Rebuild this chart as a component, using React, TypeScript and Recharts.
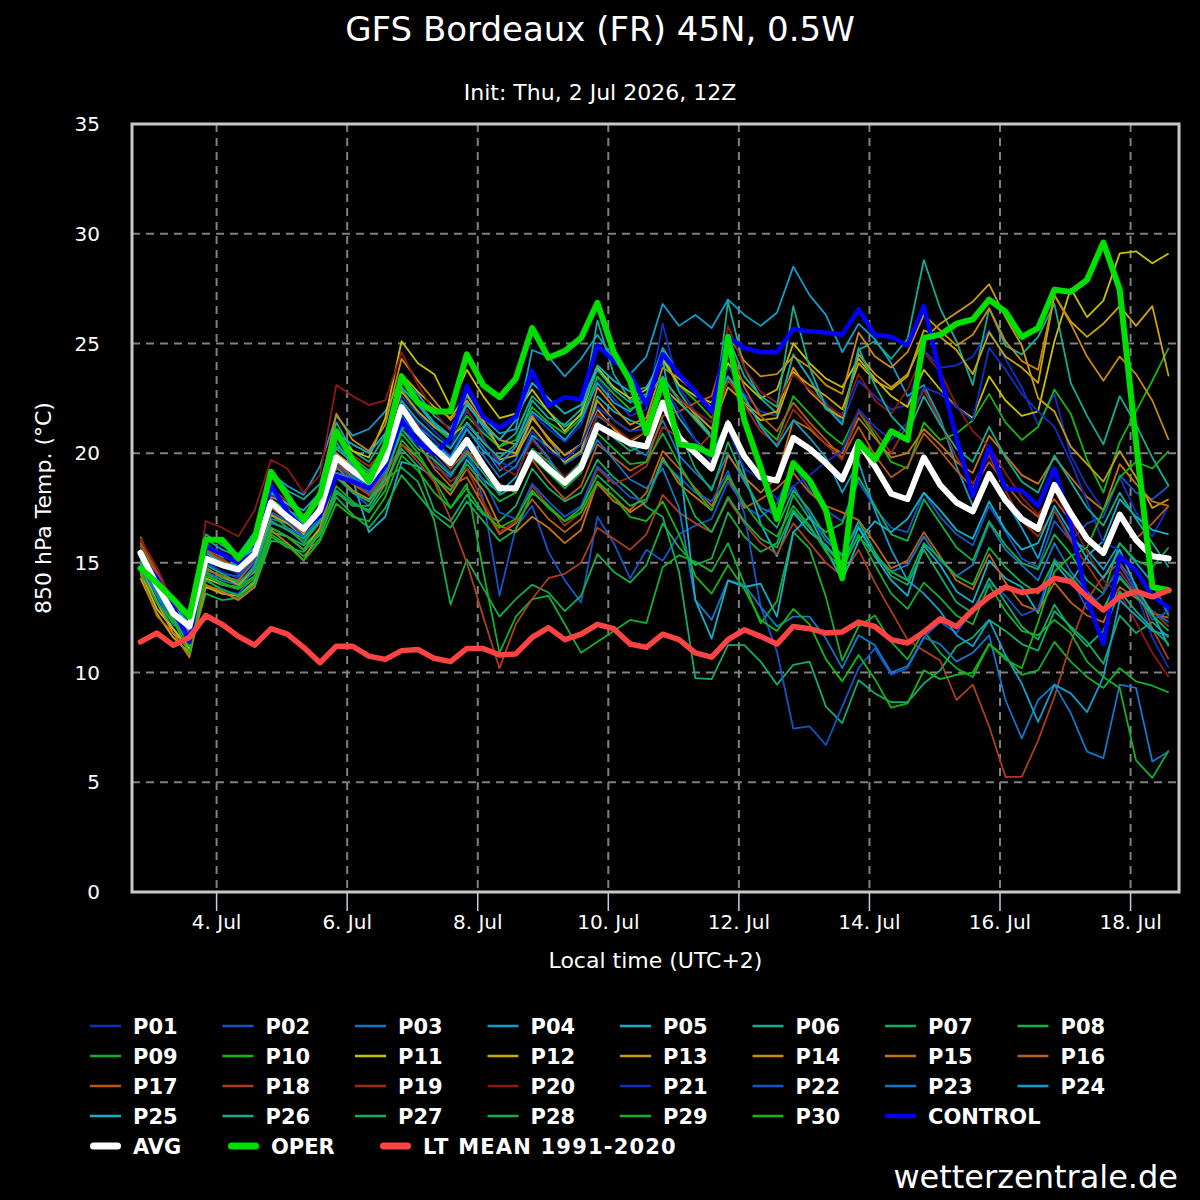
import React from 'react';
import { LineChart, Line, XAxis, YAxis, CartesianGrid, ReferenceArea } from 'recharts';

// Forecast hours counted from 2 Jul 00:00 local time (UTC+2), 6-hourly steps
const HOURS = [
  20, 26, 32, 38, 44, 50, 56, 62, 68, 74, 80, 86, 92, 98, 104, 110,
  116, 122, 128, 134, 140, 146, 152, 158, 164, 170, 176, 182, 188, 194, 200, 206,
  212, 218, 224, 230, 236, 242, 248, 254, 260, 266, 272, 278, 284, 290, 296, 302,
  308, 314, 320, 326, 332, 338, 344, 350, 356, 362, 368, 374, 380, 386, 392, 398,
];

const X_TICKS = [48, 96, 144, 192, 240, 288, 336, 384];
const X_TICK_LABELS = ['4. Jul', '6. Jul', '8. Jul', '10. Jul', '12. Jul', '14. Jul', '16. Jul', '18. Jul'];
const Y_TICKS = [0, 5, 10, 15, 20, 25, 30, 35];

// 850 hPa temperature (°C), ensemble members
const P01 = [
  15.3, 14.3, 12.9, 11.3, 15.1, 14.6, 14.3, 15.0, 18.1, 17.6, 16.4, 17.3, 19.6, 19.1, 18.3, 19.8,
  22.6, 21.8, 21.0, 20.3, 21.9, 21.0, 20.2, 19.9, 21.8, 21.1, 20.5, 21.3, 23.4, 22.5, 21.7, 22.0,
  25.9, 23.0, 21.9, 21.1, 24.0, 22.7, 21.9, 21.7, 24.5, 23.4, 22.3, 21.4, 23.3, 22.6, 22.0, 22.2,
  24.7, 23.9, 24.0, 24.4, 25.6, 24.3, 23.0, 21.3, 22.7, 19.9, 18.5, 17.4, 18.9, 17.3, 16.2, 17.6,
];
const P02 = [
  15.7, 14.1, 12.5, 11.4, 14.3, 13.7, 13.6, 14.4, 16.9, 16.5, 16.0, 16.8, 19.1, 18.2, 17.6, 18.8,
  21.1, 20.4, 19.4, 18.9, 20.3, 17.9, 13.5, 16.6, 17.6, 15.5, 14.2, 13.2, 17.1, 15.9, 14.3, 15.6,
  15.1, 16.3, 16.7, 17.0, 18.7, 17.6, 17.1, 17.7, 19.5, 18.3, 17.4, 16.9, 18.7, 17.5, 16.6, 16.4,
  18.2, 17.1, 16.3, 15.8, 17.6, 16.4, 15.2, 14.8, 16.9, 16.0, 16.8, 17.1, 19.0, 18.2, 17.9, 18.5,
];
const P03 = [
  15.0, 13.6, 12.3, 11.7, 14.6, 14.2, 14.0, 14.9, 17.0, 16.8, 16.4, 17.3, 19.3, 19.0, 18.5, 19.4,
  21.4, 21.2, 20.6, 19.8, 21.1, 20.3, 19.2, 19.7, 21.6, 20.7, 19.5, 20.0, 21.7, 21.2, 20.3, 19.9,
  21.5, 19.9, 19.1, 18.4, 20.0, 18.7, 17.5, 17.2, 18.5, 17.2, 16.0, 15.4, 16.7, 15.3, 14.6, 14.9,
  16.2, 15.1, 14.4, 14.9, 16.8, 15.6, 14.9, 14.2, 15.9, 14.6, 13.7, 12.9, 14.4, 13.5, 12.8, 12.3,
];
const P04 = [
  15.9, 14.6, 13.3, 12.1, 16.1, 15.6, 15.3, 16.4, 19.1, 18.5, 18.1, 19.4, 21.7, 20.8, 21.1, 21.9,
  23.4, 22.7, 21.7, 21.1, 22.6, 21.6, 20.9, 21.1, 24.7, 24.4, 23.5, 24.3, 25.4, 24.3, 23.6, 24.4,
  26.8, 25.8, 26.3, 25.7, 27.0, 26.3, 25.8, 26.4, 28.5, 27.2, 26.3, 24.6, 25.9, 25.2, 24.1, 22.6,
  23.1, 21.6, 19.4, 17.6, 19.0, 17.8, 16.6, 15.2, 17.4, 16.1, 15.6, 14.7, 15.9, 15.0, 14.1, 12.6,
];
const P05 = [
  15.2, 13.9, 12.8, 11.9, 15.6, 15.3, 15.0, 15.7, 17.5, 17.3, 16.6, 17.6, 19.9, 18.8, 16.4, 17.1,
  19.6, 19.4, 18.9, 18.3, 19.7, 18.8, 18.2, 18.9, 20.8, 20.3, 19.6, 20.1, 22.6, 21.9, 21.5, 21.2,
  23.1, 21.6, 20.6, 19.9, 21.5, 19.1, 16.8, 15.3, 17.3, 16.4, 15.8, 14.9, 16.6, 15.3, 14.2, 13.5,
  15.8, 14.9, 13.7, 13.2, 15.1, 14.3, 13.9, 12.7, 15.0, 14.1, 15.3, 16.0, 17.9, 17.1, 16.5, 16.3,
];
const P06 = [
  15.5, 14.4, 13.4, 12.4, 16.3, 15.8, 15.4, 16.4, 19.2, 18.3, 17.9, 18.6, 21.4, 20.1, 19.6, 20.8,
  23.6, 22.3, 21.4, 20.8, 22.3, 21.2, 20.3, 20.9, 22.6, 21.9, 21.2, 21.7, 26.05, 23.6, 22.4, 22.7,
  24.7, 22.8, 21.7, 20.8, 26.9, 23.9, 22.5, 21.8, 24.5, 23.4, 22.0, 21.6, 24.7, 25.1, 24.3, 25.2,
  28.8, 26.6, 25.1, 23.1, 26.6, 24.9, 24.5, 25.3, 26.8, 23.2, 21.7, 20.4, 22.6, 21.3, 19.8, 18.5,
];
const P07 = [
  15.1, 13.7, 12.5, 10.8, 14.0, 13.6, 13.5, 14.2, 16.4, 16.2, 15.8, 16.5, 18.3, 17.7, 17.4, 18.6,
  20.2, 19.4, 17.4, 16.9, 18.1, 17.2, 16.9, 17.6, 19.3, 18.4, 17.8, 18.2, 19.7, 18.9, 18.3, 17.55,
  17.1, 14.6, 9.75, 9.7, 11.25, 11.25, 10.5, 9.45, 10.35, 10.5, 8.45, 7.7, 9.65, 9.05, 8.65, 8.65,
  9.5, 10.1, 11.2, 11.6, 12.4, 11.9, 11.3, 11.0, 12.8, 12.1, 11.4, 10.4, 12.6, 11.8, 12.3, 11.6,
];
const P08 = [
  14.8, 13.3, 12.0, 11.0, 13.6, 13.3, 13.4, 13.9, 16.0, 15.9, 15.3, 16.1, 18.2, 17.6, 17.6, 18.8,
  19.35, 18.7, 16.95, 13.1, 15.15, 13.85, 12.55, 13.35, 14.0, 13.65, 12.8, 13.5, 15.4, 14.6, 14.1, 14.9,
  16.8, 15.7, 14.9, 15.2, 17.3, 16.2, 15.5, 15.9, 18.1, 17.0, 16.4, 16.8, 18.9, 17.6, 16.3, 16.0,
  17.9, 16.8, 15.7, 15.1, 16.9, 15.8, 15.0, 14.7, 16.3, 15.4, 14.2, 13.6, 15.9, 15.1, 14.8, 15.7,
];
const P09 = [
  15.8, 14.5, 12.9, 11.6, 14.8, 14.3, 14.1, 14.6, 17.2, 16.6, 15.9, 16.9, 19.0, 18.3, 17.9, 19.1,
  20.9, 20.0, 18.8, 17.5, 18.6, 14.65, 10.9, 12.55, 13.35, 13.5, 12.2, 10.9, 11.4, 11.9, 12.4, 12.25,
  14.8, 15.35, 15.05, 14.6, 15.9, 14.05, 12.25, 13.25, 16.4, 15.65, 13.45, 10.55, 12.1, 12.6, 11.4, 10.6,
  11.9, 10.9, 10.2, 9.8, 11.3, 10.7, 9.9, 10.1, 11.4, 10.5, 9.8, 9.3, 10.2, 9.6, 9.4, 9.1,
];
const P10 = [
  15.4, 14.2, 12.9, 11.8, 15.3, 14.9, 14.8, 15.5, 17.9, 17.4, 17.0, 17.8, 20.3, 19.8, 19.2, 20.3,
  22.9, 21.9, 21.2, 20.6, 21.7, 20.9, 20.3, 20.6, 22.1, 21.4, 20.9, 21.6, 23.5, 22.7, 22.0, 22.4,
  24.2, 23.1, 22.4, 21.6, 23.3, 22.5, 21.3, 20.6, 22.6, 21.8, 21.0, 20.4, 21.9, 20.8, 19.6, 19.3,
  21.4, 20.6, 20.9, 21.5, 22.7, 21.4, 20.6, 21.2, 22.9, 21.8, 19.7, 18.2, 20.5, 21.9, 23.3, 24.8,
];
const P11 = [
  14.6, 12.9, 12.0, 11.1, 14.3, 14.0, 13.9, 14.8, 17.3, 16.9, 16.3, 17.6, 20.8, 20.1, 19.8, 21.6,
  25.1, 24.1, 23.6, 22.1, 23.8, 22.6, 21.6, 21.8, 22.9, 21.9, 21.0, 21.8, 23.9, 23.0, 22.5, 22.9,
  24.3, 23.1, 22.6, 22.3, 24.1, 23.2, 22.5, 22.9, 25.0, 24.1, 23.4, 23.0, 24.3, 23.4, 22.6, 22.1,
  23.8, 22.9, 22.1, 21.6, 23.5, 22.4, 21.7, 21.9, 25.1, 27.5, 26.2, 26.95, 29.1, 29.2, 28.65, 29.1,
];
const P12 = [
  14.3, 12.7, 11.6, 10.9, 13.9, 13.6, 13.5, 14.1, 16.6, 16.2, 15.6, 16.6, 19.1, 18.8, 18.4, 19.9,
  23.6, 22.8, 22.1, 21.6, 22.7, 21.5, 20.2, 20.0, 21.6, 20.7, 19.9, 20.4, 22.0, 21.1, 20.5, 21.0,
  23.0, 22.3, 21.6, 20.7, 23.5, 22.2, 21.5, 21.6, 23.7, 23.1, 22.6, 22.0, 24.1, 23.3, 22.9, 23.5,
  25.6, 25.3, 24.7, 23.6, 25.5, 24.4, 23.9, 23.2, 27.2, 26.0, 25.3, 25.9, 26.7, 25.8, 26.7, 23.5,
];
const P13 = [
  15.0, 13.2, 11.8, 11.2, 14.7, 14.4, 14.0, 14.6, 17.2, 16.8, 16.2, 17.0, 20.0, 19.4, 19.0, 20.4,
  22.8, 21.9, 21.2, 20.8, 21.3, 20.5, 19.7, 19.9, 21.2, 20.3, 19.6, 20.1, 22.4, 21.5, 21.0, 21.4,
  23.4, 22.5, 21.8, 21.1, 23.0, 22.3, 21.7, 21.9, 23.9, 22.8, 22.1, 21.6, 24.5, 23.6, 23.0, 23.6,
  25.2, 25.9, 26.4, 26.9, 27.7, 26.2, 24.9, 22.5, 21.9, 20.3, 19.5, 18.7, 20.1, 18.9, 17.5, 17.9,
];
const P14 = [
  15.6, 13.9, 12.4, 11.5, 15.4, 15.0, 14.5, 15.2, 18.0, 17.7, 17.1, 18.3, 21.8, 20.6, 20.1, 21.3,
  24.3, 23.3, 22.4, 21.5, 22.4, 21.4, 20.6, 20.4, 21.7, 20.6, 19.9, 20.4, 23.0, 22.1, 21.3, 21.6,
  23.9, 23.4, 22.8, 22.1, 25.4, 24.2, 23.5, 23.6, 24.4, 23.9, 23.1, 22.7, 25.5, 24.4, 23.9, 24.6,
  26.3, 25.6, 24.9, 25.4, 26.6, 25.1, 24.2, 23.8, 27.2, 25.9, 24.4, 23.3, 24.4, 23.6, 22.4, 20.6,
];
const P15 = [
  14.5, 12.6, 11.8, 10.7, 14.0, 13.7, 13.3, 13.9, 16.5, 15.9, 15.1, 16.5, 19.0, 18.3, 17.9, 18.6,
  20.4, 19.8, 18.9, 18.1, 19.3, 18.3, 16.7, 16.4, 17.1, 16.6, 15.9, 16.5, 18.7, 18.0, 17.3, 17.8,
  19.8, 18.6, 18.0, 17.4, 19.9, 18.9, 18.2, 18.9, 21.5, 21.1, 20.4, 20.0, 21.6, 20.7, 19.8, 20.0,
  21.1, 20.4, 19.6, 19.1, 20.8, 19.9, 19.0, 18.6, 19.8, 18.9, 18.0, 17.4, 19.5, 18.6, 17.8, 17.6,
];
const P16 = [
  16.2, 14.4, 12.6, 11.4, 14.7, 14.4, 14.2, 15.1, 17.5, 17.0, 16.4, 17.2, 19.4, 18.6, 18.1, 19.2,
  21.5, 20.5, 19.3, 18.5, 18.9, 17.6, 16.3, 16.8, 17.9, 17.0, 16.4, 17.0, 18.6, 17.8, 17.4, 18.2,
  20.1, 19.3, 18.4, 17.6, 18.9, 17.5, 17.9, 18.4, 19.1, 18.2, 17.6, 17.3, 16.95, 15.9, 14.75, 15.1,
  16.4, 15.3, 14.2, 13.8, 15.4, 14.1, 13.1, 12.8, 14.1, 13.2, 12.6, 12.3, 13.9, 13.4, 12.7, 12.5,
];
const P17 = [
  15.9, 14.6, 13.1, 11.6, 15.6, 15.1, 14.8, 15.4, 17.9, 17.2, 16.5, 17.2, 19.6, 18.9, 18.2, 19.5,
  22.0, 21.1, 20.1, 19.3, 20.1, 19.3, 18.6, 18.2, 19.7, 18.7, 17.9, 18.5, 20.4, 19.8, 19.2, 19.6,
  21.7, 21.9, 22.3, 22.6, 25.1, 23.0, 21.7, 21.0, 22.3, 21.4, 20.6, 19.8, 21.2, 19.9, 18.9, 19.4,
  20.9, 20.1, 19.2, 18.4, 19.6, 18.6, 17.7, 17.1, 17.9, 16.9, 16.1, 15.6, 17.0, 16.1, 16.8, 17.6,
];
const P18 = [
  16.0, 14.6, 13.1, 11.8, 15.7, 15.2, 14.7, 15.5, 17.6, 17.0, 16.2, 17.0, 19.6, 18.7, 18.1, 19.0,
  20.4, 19.6, 18.7, 17.0, 15.0, 12.55, 10.2, 12.2, 13.35, 14.3, 14.5, 15.0, 16.6, 16.1, 15.6, 16.3,
  18.1, 17.3, 16.8, 16.4, 17.9, 16.8, 15.9, 15.4, 16.8, 15.9, 15.0, 14.4, 15.6, 14.1, 12.8, 11.5,
  11.0, 10.55, 8.75, 9.45, 7.55, 5.25, 5.25, 6.9, 8.9, 11.35, 13.3, 14.4, 15.0, 14.0, 12.0, 10.6,
];
const P19 = [
  15.7, 14.3, 12.8, 11.5, 15.2, 14.9, 14.6, 15.6, 18.4, 17.8, 17.2, 17.9, 20.7, 19.9, 19.4, 20.2,
  22.3, 21.3, 19.6, 18.7, 19.3, 17.8, 16.4, 16.9, 18.5, 17.6, 16.7, 17.3, 19.3, 18.6, 18.9, 19.4,
  21.2, 20.7, 20.1, 20.9, 23.4, 22.2, 21.0, 20.4, 22.0, 21.2, 20.4, 19.7, 21.9, 21.0, 20.0, 21.3,
  22.9, 21.4, 19.8, 18.6, 19.9, 18.3, 16.9, 16.2, 17.4, 16.0, 14.9, 13.8, 14.6, 13.6, 12.8, 12.1,
];
const P20 = [
  16.1, 14.8, 13.2, 11.9, 16.9, 16.6, 16.2, 17.4, 19.7, 19.3, 18.2, 19.0, 23.1, 22.6, 22.2, 22.4,
  24.6, 23.1, 21.9, 21.0, 22.0, 20.7, 19.4, 19.0, 20.6, 19.7, 18.9, 19.6, 21.8, 21.2, 20.6, 21.0,
  23.2, 22.5, 21.9, 21.4, 25.8, 23.9, 22.8, 22.3, 23.6, 22.9, 22.2, 21.7, 23.6, 22.4, 21.8, 22.9,
  24.6, 23.7, 22.2, 21.0, 20.3, 19.1, 18.0, 17.2, 18.3, 16.9, 15.5, 14.2, 13.6, 12.3, 10.9, 9.8,
];
const P21 = [
  15.4, 14.1, 12.6, 11.5, 15.4, 14.8, 14.5, 15.3, 17.6, 17.1, 16.8, 17.5, 19.9, 19.3, 18.9, 20.1,
  22.3, 21.4, 20.6, 19.9, 21.3, 20.6, 19.6, 19.3, 21.0, 20.1, 19.7, 20.4, 22.1, 21.5, 21.0, 21.1,
  23.2, 21.9, 20.6, 19.6, 21.1, 19.3, 18.8, 17.9, 18.5, 19.0, 19.6, 20.1, 22.0, 21.2, 20.6, 21.4,
  23.0, 22.7, 22.1, 21.5, 24.8, 23.8, 22.7, 21.9, 21.2, 19.6, 17.8, 15.9, 15.6, 13.7, 11.6, 10.2,
];
const P22 = [
  15.2, 13.8, 12.6, 11.9, 15.0, 14.5, 14.4, 15.1, 17.3, 16.9, 16.2, 17.0, 19.5, 18.8, 18.2, 19.2,
  21.7, 20.8, 19.9, 19.1, 19.9, 18.8, 17.3, 17.0, 18.6, 17.8, 17.1, 17.6, 19.4, 18.7, 18.0, 17.8,
  19.6, 18.9, 18.2, 17.8, 19.2, 17.25, 13.0, 10.95, 7.45, 7.55, 6.7, 8.45, 10.2, 11.1, 9.9, 10.2,
  11.6, 12.3, 11.8, 12.9, 14.1, 13.5, 12.6, 12.9, 15.2, 14.3, 12.9, 13.6, 14.9, 13.7, 12.4, 12.8,
];
const P23 = [
  14.9, 13.5, 12.2, 11.6, 14.5, 14.0, 13.8, 14.7, 16.8, 16.6, 16.2, 17.1, 19.1, 18.9, 18.4, 19.2,
  21.2, 20.9, 20.2, 19.5, 20.7, 19.9, 18.9, 19.4, 20.7, 19.8, 18.6, 19.2, 20.6, 19.7, 18.8, 18.4,
  19.3, 17.5, 13.3, 12.4, 14.2, 14.0, 13.0, 12.1, 12.55, 12.55, 11.55, 10.2, 11.7, 11.25, 10.0, 10.3,
  11.6, 11.3, 10.5, 10.9, 11.7, 8.75, 7.0, 8.75, 9.45, 8.15, 6.4, 6.1, 9.45, 9.3, 5.95, 6.4,
];
const P24 = [
  15.6, 14.0, 12.9, 12.3, 15.8, 15.4, 14.9, 15.9, 18.3, 17.4, 16.8, 17.9, 20.5, 19.4, 18.8, 19.8,
  22.0, 21.1, 20.4, 19.8, 21.1, 20.1, 19.5, 20.3, 21.9, 21.3, 20.6, 21.5, 23.2, 22.3, 21.9, 22.6,
  24.8, 23.6, 22.7, 21.9, 23.5, 22.6, 21.2, 20.3, 21.5, 20.7, 19.8, 18.2, 19.6, 17.4, 15.6, 14.2,
  13.6, 12.8, 11.7, 11.2, 12.4, 10.8, 9.5, 7.75, 9.45, 9.05, 8.2, 9.8, 13.3, 12.6, 11.9, 11.7,
];
const P25 = [
  15.3, 14.1, 13.0, 12.2, 15.9, 15.3, 15.1, 16.0, 18.2, 17.7, 17.4, 18.2, 20.9, 20.4, 20.0, 20.9,
  23.0, 22.2, 21.3, 20.7, 22.2, 21.3, 20.6, 21.5, 23.2, 22.5, 21.8, 22.2, 24.0, 23.3, 22.8, 23.0,
  24.3, 19.9, 13.3, 11.55, 14.2, 13.9, 14.05, 12.55, 16.4, 17.1, 15.6, 14.2, 16.0, 16.9, 16.4, 17.0,
  18.2, 17.4, 16.5, 16.1, 17.8, 16.5, 15.6, 15.9, 17.6, 16.4, 15.2, 14.3, 15.6, 13.9, 12.7, 11.2,
];
const P26 = [
  15.0, 13.8, 12.7, 11.9, 15.5, 15.0, 14.9, 15.7, 17.8, 17.4, 17.0, 17.9, 20.2, 19.6, 19.1, 19.9,
  22.4, 21.5, 20.8, 20.2, 21.4, 20.5, 19.8, 20.4, 22.4, 21.6, 21.3, 22.0, 23.8, 22.9, 22.3, 22.6,
  23.5, 22.4, 21.5, 20.7, 25.3, 23.5, 22.6, 22.1, 26.7, 23.9, 22.1, 21.3, 24.8, 23.1, 21.7, 20.9,
  22.6, 21.3, 20.2, 19.6, 21.2, 19.8, 18.7, 18.2, 19.9, 18.7, 17.5, 16.7, 18.2, 17.0, 15.9, 14.8,
];
const P27 = [
  15.3, 14.0, 12.8, 11.4, 14.9, 14.5, 14.1, 14.8, 16.9, 16.5, 16.1, 16.9, 18.9, 18.2, 17.8, 18.9,
  21.1, 20.2, 19.7, 19.0, 20.0, 19.1, 18.1, 18.5, 20.2, 19.6, 18.8, 19.6, 21.4, 20.7, 20.1, 20.4,
  22.2, 21.0, 19.3, 18.3, 20.5, 18.8, 17.4, 16.6, 18.3, 17.4, 16.2, 15.3, 16.9, 15.5, 14.4, 14.0,
  15.6, 14.4, 13.2, 12.7, 14.3, 13.2, 12.1, 11.5, 13.1, 12.0, 11.2, 11.9, 13.7, 12.8, 12.0, 11.3,
];
const P28 = [
  14.6, 13.2, 12.3, 11.5, 14.2, 13.8, 13.5, 14.0, 16.2, 15.7, 15.5, 16.3, 18.0, 17.2, 16.6, 17.5,
  19.0, 18.1, 17.2, 16.6, 17.8, 16.9, 16.0, 16.5, 18.2, 17.6, 16.9, 17.5, 19.0, 18.3, 17.6, 17.9,
  19.7, 18.8, 17.1, 16.4, 18.0, 16.9, 16.1, 15.7, 17.4, 16.6, 15.7, 14.9, 16.2, 15.4, 14.6, 14.2,
  15.9, 15.2, 14.4, 14.0, 15.7, 14.8, 14.1, 13.6, 15.1, 14.4, 13.5, 12.9, 14.3, 13.5, 12.6, 11.9,
];
const P29 = [
  15.5, 14.1, 12.5, 11.2, 14.6, 14.0, 13.9, 14.4, 16.6, 16.2, 15.6, 16.4, 18.5, 17.8, 17.3, 18.3,
  20.6, 19.8, 18.9, 18.3, 19.5, 18.6, 17.8, 18.2, 19.8, 19.1, 18.4, 19.1, 20.9, 20.2, 19.5, 19.6,
  20.9, 19.5, 18.3, 17.4, 19.0, 17.7, 16.7, 16.2, 17.6, 16.7, 15.5, 14.7, 16.3, 14.9, 13.6, 12.9,
  14.1, 13.4, 12.6, 12.2, 14.0, 12.8, 11.9, 11.7, 12.4, 11.8, 10.5, 9.8, 9.3, 6.0, 5.2, 6.45,
];
const P30 = [
  15.2, 13.9, 12.4, 10.9, 14.4, 14.1, 13.8, 14.3, 16.3, 15.8, 15.1, 16.0, 17.7, 17.1, 16.9, 18.0,
  19.9, 19.2, 18.2, 17.5, 18.4, 17.3, 16.6, 17.0, 18.3, 17.5, 16.9, 17.3, 18.7, 18.0, 17.1, 16.9,
  17.8, 16.3, 14.4, 13.6, 14.9, 13.8, 12.4, 11.9, 12.9, 12.2, 10.6, 9.6, 10.8, 9.7, 8.4, 8.6,
  10.1, 9.7, 9.9, 10.0, 11.3, 10.6, 10.2, 12.3, 14.6, 15.3, 15.7, 17.4, 18.9, 19.6, 19.3, 20.1,
];

const CONTROL = [
  15.3, 14.3, 13.0, 11.4, 15.75, 15.4, 15.0, 15.45, 18.55, 17.3, 16.55, 17.15, 18.95, 18.7, 18.4, 19.4,
  21.5, 20.5, 19.95, 20.7, 23.05, 21.65, 21.15, 21.65, 23.75, 22.15, 22.55, 22.45, 24.9, 24.2, 23.6, 22.2,
  24.5, 23.6, 22.8, 21.9, 25.3, 24.8, 24.6, 24.6, 25.65, 25.55, 25.5, 25.4, 26.55, 25.4, 25.3, 24.9,
  26.7, 23.6, 20.7, 18.05, 20.3, 18.4, 18.3, 17.6, 19.3, 16.75, 13.35, 11.3, 15.3, 14.65, 13.5, 12.95,
];
const AVG = [
  15.45, 14.0, 12.7, 12.1, 15.2, 14.9, 14.7, 15.4, 17.75, 17.1, 16.55, 17.4, 19.8, 19.2, 18.7, 19.7,
  22.1, 21.0, 20.2, 19.55, 20.6, 19.45, 18.4, 18.4, 20.0, 19.3, 18.65, 19.35, 21.25, 20.85, 20.45, 20.3,
  22.3, 20.7, 20.0, 19.3, 21.35, 19.85, 18.9, 18.75, 20.7, 20.2, 19.55, 18.8, 20.5, 19.4, 18.15, 17.9,
  19.8, 18.55, 17.75, 17.35, 19.05, 17.85, 17.0, 16.55, 18.55, 17.25, 16.1, 15.45, 17.2, 16.05, 15.3, 15.2,
];
const OPER = [
  14.75, 14.1, 13.35, 12.55, 16.05, 16.05, 15.2, 16.1, 19.15, 18.05, 16.95, 18.05, 21.0, 19.7, 18.7, 20.35,
  23.5, 22.3, 21.9, 21.9, 24.5, 23.1, 22.55, 23.4, 25.7, 24.35, 24.65, 25.25, 26.85, 24.6, 23.3, 20.9,
  23.3, 20.4, 20.3, 19.95, 25.3, 21.5, 19.35, 17.0, 19.55, 18.75, 17.4, 14.3, 20.5, 19.7, 21.0, 20.6,
  25.25, 25.4, 25.9, 26.1, 27.0, 26.45, 25.3, 25.7, 27.45, 27.35, 27.9, 29.6, 27.45, 20.5, 13.9, 13.75,
];
const LT_MEAN = [
  11.4, 11.8, 11.25, 11.6, 12.6, 12.2, 11.65, 11.25, 12.0, 11.75, 11.15, 10.45, 11.2, 11.2, 10.75, 10.6,
  11.0, 11.05, 10.65, 10.5, 11.1, 11.1, 10.8, 10.85, 11.6, 12.05, 11.5, 11.75, 12.2, 12.0, 11.3, 11.15,
  11.75, 11.5, 10.9, 10.7, 11.5, 11.95, 11.65, 11.3, 12.1, 12.0, 11.8, 11.85, 12.3, 12.1, 11.5, 11.35,
  11.85, 12.45, 12.1, 12.85, 13.45, 13.9, 13.65, 13.75, 14.3, 14.15, 13.45, 12.85, 13.45, 13.7, 13.45, 13.75,
];

// Member palette: P01–P20 run blue → cyan → green → yellow → orange → red, P21–P30 repeat P01–P10
const MEMBER_COLORS = [
  '#1030c4', '#1454c6', '#1476c8', '#129ccc', '#12b0c4',
  '#12ae94', '#12ac6a', '#12b048', '#12b02c', '#16b612',
  '#c8c000', '#cca800', '#c89a10', '#c88a10', '#c47412',
  '#bc6214', '#ba5614', '#ac3e1c', '#9e2c18', '#8c1818',
];

const MEMBERS = [
  P01, P02, P03, P04, P05, P06, P07, P08, P09, P10,
  P11, P12, P13, P14, P15, P16, P17, P18, P19, P20,
  P21, P22, P23, P24, P25, P26, P27, P28, P29, P30,
].map((values, i) => ({
  key: `P${String(i + 1).padStart(2, '0')}`,
  values,
  color: MEMBER_COLORS[i % 20],
}));

const MAIN_SERIES = [
  { key: 'CONTROL', values: CONTROL, color: '#0000ff', width: 4.5 },
  { key: 'AVG', values: AVG, color: '#ffffff', width: 6 },
  { key: 'OPER', values: OPER, color: '#00e000', width: 6 },
  { key: 'LT MEAN 1991-2020', values: LT_MEAN, color: '#ff4242', width: 5.5 },
];

const data = HOURS.map((h, i) => {
  const row: Record<string, number> = { h };
  MEMBERS.forEach((m) => { row[m.key] = m.values[i]; });
  MAIN_SERIES.forEach((s) => { row[s.key] = s.values[i]; });
  return row;
});

const FONT = '"DejaVu Sans", "Noto Sans", sans-serif';
const X_DOMAIN: [number, number] = [16.9, 401.8];

function LegendOverlay() {
  const gridItems = [...MEMBERS.map((m) => ({ key: m.key, color: m.color, width: 2.5 })),
    { key: 'CONTROL', color: '#0000ff', width: 4.5 }];
  const colX = (c: number) => 90 + 132.5 * c;
  const rowY = (r: number) => 1026 + 30 * r;
  const lastRow = [
    { key: 'AVG', color: '#ffffff', x: 90 },
    { key: 'OPER', color: '#00e000', x: 228 },
    { key: 'LT MEAN 1991-2020', color: '#ff4242', x: 380 },
  ];
  return (
    <g fontFamily={FONT} fontWeight="bold" fontSize={21} fill="#ffffff">
      {gridItems.map((it, idx) => {
        const c = idx % 8;
        const r = Math.floor(idx / 8);
        const x = colX(c);
        const y = rowY(r);
        return (
          <g key={it.key}>
            <line x1={x} x2={x + 31} y1={y} y2={y} stroke={it.color} strokeWidth={it.width} />
            <text x={x + 43} y={y + 7.5}>{it.key}</text>
          </g>
        );
      })}
      {lastRow.map((it) => (
        <g key={it.key}>
          <line x1={it.x + 3.5} x2={it.x + 27.5} y1={rowY(4)} y2={rowY(4)} stroke={it.color}
            strokeWidth={7} strokeLinecap="round" />
          <text x={it.x + 43} y={rowY(4) + 7.5} letterSpacing={it.key.length > 5 ? 1.2 : 0}>{it.key}</text>
        </g>
      ))}
    </g>
  );
}

export default function App() {
  return (
    <div style={{ position: 'fixed', left: 0, top: 0, width: 1200, height: 1200, background: '#000', overflow: 'hidden', fontFamily: FONT }}>
      <div style={{ position: 'absolute', left: 0, top: 0 }}>
        <LineChart width={1200} height={1200} data={data} margin={{ top: 124, right: 21, bottom: 268, left: 72 }}>
          <CartesianGrid stroke="#808080" strokeWidth={2} strokeDasharray="8 6" />
          <XAxis
            dataKey="h"
            type="number"
            domain={X_DOMAIN}
            allowDataOverflow
            ticks={X_TICKS}
            interval={0}
            tickFormatter={(v: number) => X_TICK_LABELS[X_TICKS.indexOf(v)] ?? ''}
            tick={{ fill: '#ffffff', fontSize: 20, fontFamily: FONT }}
            tickLine={{ stroke: '#c0d0e0', strokeWidth: 1.5 }}
            tickSize={19}
            tickMargin={4}
            axisLine={false}
            height={40}
          />
          <YAxis
            type="number"
            domain={[0, 35]}
            ticks={Y_TICKS}
            interval={0}
            tick={{ fill: '#ffffff', fontSize: 20, fontFamily: FONT }}
            tickLine={false}
            axisLine={false}
            tickSize={0}
            tickMargin={32}
            width={60}
          />
          {MEMBERS.map((m) => (
            <Line key={m.key} dataKey={m.key} type="linear" stroke={m.color} strokeWidth={1.8}
              dot={false} activeDot={false} isAnimationActive={false} strokeLinejoin="round" />
          ))}
          {MAIN_SERIES.map((s) => (
            <Line key={s.key} dataKey={s.key} type="linear" stroke={s.color} strokeWidth={s.width}
              dot={false} activeDot={false} isAnimationActive={false} strokeLinejoin="round" strokeLinecap="round" />
          ))}
          <ReferenceArea x1={X_DOMAIN[0]} x2={X_DOMAIN[1]} y1={0} y2={35} fill="none" fillOpacity={0}
            stroke="#c8c8c8" strokeWidth={3} ifOverflow="visible" />
        </LineChart>
      </div>
      <svg width={1200} height={1200} style={{ position: 'absolute', left: 0, top: 0, pointerEvents: 'none' }}>
        <text x={600} y={41} textAnchor="middle" fontFamily={FONT} fontSize={34} fill="#ffffff">
          GFS Bordeaux (FR) 45N, 0.5W
        </text>
        <text x={600} y={100} textAnchor="middle" fontFamily={FONT} fontSize={22} fill="#ffffff">
          Init: Thu, 2 Jul 2026, 12Z
        </text>
        <text transform="translate(51,508) rotate(-90)" textAnchor="middle" fontFamily={FONT} fontSize={22} fill="#ffffff">
          850 hPa Temp. (°C)
        </text>
        <text x={655.5} y={968} textAnchor="middle" fontFamily={FONT} fontSize={22} fill="#ffffff">
          Local time (UTC+2)
        </text>
        <LegendOverlay />
        <text x={1178} y={1188} textAnchor="end" fontFamily={FONT} fontSize={32} fill="#ffffff">
          wetterzentrale.de
        </text>
      </svg>
    </div>
  );
}
